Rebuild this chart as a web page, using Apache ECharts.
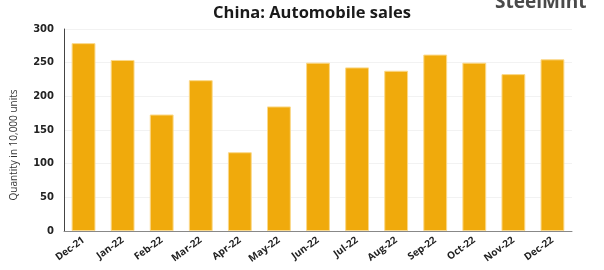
<!DOCTYPE html>
<html><head><meta charset="utf-8">
<script src="https://cdn.jsdelivr.net/npm/echarts@6/dist/echarts.min.js"></script>
<style>html,body{margin:0;padding:0;background:#fff}#c{width:604px;height:270px}</style>
</head><body><div id="c"></div>
<script>
const categories = ["Dec-21","Jan-22","Feb-22","Mar-22","Apr-22","May-22","Jun-22","Jul-22","Aug-22","Sep-22","Oct-22","Nov-22","Dec-22"];
const sales = [279, 254, 173, 224, 117, 185, 250, 243, 238, 262, 250, 233, 255];
const yTicks = [0, 50, 100, 150, 200, 250, 300];

const chart = echarts.init(document.getElementById('c'), null, {renderer:'canvas'});
chart.setOption({
  animation:false,
  title:{text:'China: Automobile sales', left:307, textAlign:'center', top:0,
    textStyle:{fontFamily:'Open Sans', fontWeight:'bold', fontSize:16.5, color:'#1a1a1a'}},
  graphic:[
    {type:'text', left:495, top:-7, style:{text:'SteelMint', font:'bold 19px "Open Sans"', fill:'#4a4a4a'}},
    {type:'text', x:14, y:145, rotation:Math.PI/2,
      style:{text:'Quantity in 10,000 units', font:'10px "Open Sans"', fill:'#333', align:'center', verticalAlign:'middle'}}
  ],
  grid:{left:64, right:32, top:29, bottom:39, containLabel:false},
  xAxis:{type:'category', data:categories,
    axisLine:{lineStyle:{color:'#888', width:1}}, axisTick:{show:false},
    axisLabel:{rotate:36, interval:0, fontFamily:'Open Sans', fontWeight:'bold', fontSize:10, color:'#222', margin:8}},
  yAxis:{type:'value', min:yTicks[0], max:yTicks[yTicks.length-1], interval:50,
    axisLine:{show:true, lineStyle:{color:'#444'}}, axisTick:{show:false},
    axisLabel:{fontFamily:'DejaVu Sans', fontWeight:'bold', fontSize:10, color:'#222', margin:10},
    splitLine:{show:true, lineStyle:{color:'#f2f2f2', width:1}}},
  series:[{type:'bar', data:sales, barWidth:'61%',
    itemStyle:{color:'#F0AA0C', borderColor:'#FBD98A', borderWidth:1}}]
});
</script></body></html>
